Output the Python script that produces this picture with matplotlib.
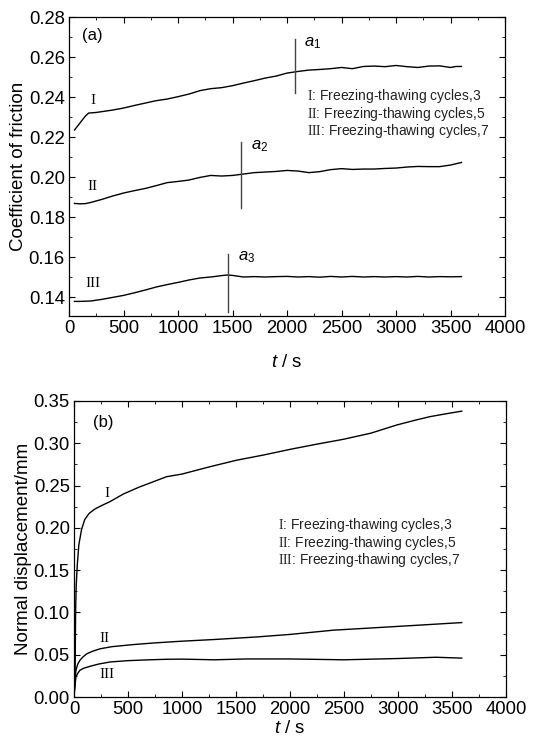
import matplotlib
matplotlib.use("Agg")
import matplotlib.pyplot as plt
from matplotlib.ticker import MultipleLocator

plt.rcParams["font.family"] = ["Liberation Sans", "DejaVu Sans"]
plt.rcParams["mathtext.fontset"] = "custom"
plt.rcParams["mathtext.rm"] = "Liberation Serif"
plt.rcParams["mathtext.it"] = "Liberation Sans:italic"
plt.rcParams["mathtext.sf"] = "Liberation Sans"

# ---- panel (a): coefficient of friction ----
t_fa1 = [50, 100, 150, 180, 250, 300, 400, 500, 600, 700, 800, 900, 1000, 1100, 1200,
         1300, 1400, 1500, 1600, 1700, 1800, 1900, 2000, 2100, 2200, 2300, 2400, 2500,
         2600, 2700, 2800, 2900, 3000, 3100, 3200, 3300, 3400, 3500, 3550, 3600]
f_a1 = [0.2235, 0.2270, 0.2305, 0.2320, 0.2323, 0.2327, 0.2335, 0.2345, 0.2358, 0.2370,
        0.2382, 0.2390, 0.2402, 0.2415, 0.2432, 0.2442, 0.2447, 0.2457, 0.2470, 0.2482,
        0.2495, 0.2505, 0.2520, 0.2528, 0.2535, 0.2538, 0.2542, 0.2548, 0.2542, 0.2553,
        0.2555, 0.2552, 0.2558, 0.2552, 0.2548, 0.2555, 0.2556, 0.2548, 0.2553, 0.2553]

t_fa2 = [50, 100, 150, 200, 300, 400, 500, 600, 700, 800, 900, 1000, 1100, 1200, 1300,
         1400, 1500, 1600, 1700, 1800, 1900, 2000, 2100, 2200, 2300, 2400, 2500, 2600,
         2700, 2800, 2900, 3000, 3100, 3200, 3300, 3400, 3500, 3600]
f_a2 = [0.1868, 0.1866, 0.1867, 0.1873, 0.1888, 0.1905, 0.1920, 0.1932, 0.1943, 0.1957,
        0.1972, 0.1978, 0.1985, 0.1998, 0.2008, 0.2005, 0.2008, 0.2015, 0.2022, 0.2025,
        0.2028, 0.2033, 0.2030, 0.2022, 0.2027, 0.2037, 0.2042, 0.2038, 0.2040, 0.2040,
        0.2043, 0.2045, 0.2050, 0.2053, 0.2052, 0.2052, 0.2060, 0.2073]

t_fa3 = [50, 100, 200, 300, 400, 500, 600, 700, 800, 900, 1000, 1100, 1200, 1300, 1400,
         1450, 1500, 1600, 1700, 1800, 1900, 2000, 2100, 2200, 2300, 2400, 2500, 2600,
         2700, 2800, 2900, 3000, 3100, 3200, 3300, 3400, 3500, 3600]
f_a3 = [0.1378, 0.1378, 0.1380, 0.1388, 0.1398, 0.1408, 0.1421, 0.1435, 0.1450, 0.1462,
        0.1473, 0.1485, 0.1495, 0.1500, 0.1507, 0.1510, 0.1508, 0.1500, 0.1502, 0.1500,
        0.1502, 0.1503, 0.1500, 0.1502, 0.1499, 0.1503, 0.1500, 0.1503, 0.1500, 0.1502,
        0.1500, 0.1502, 0.1500, 0.1503, 0.1500, 0.1502, 0.1501, 0.1502]

# marker lines a1..a3: time, lower, upper
mark_t = [2070, 1578, 1456]
mark_lo = [0.242, 0.1847, 0.1325]
mark_hi = [0.2688, 0.2175, 0.1617]
mark_names = ["1", "2", "3"]

# ---- panel (b): normal displacement ----
t_b1 = [0, 10, 15, 20, 30, 45, 70, 100, 140, 190, 250, 333, 457, 600, 858, 1000, 1250,
        1506, 1750, 2000, 2250, 2494, 2750, 2988, 3150, 3296, 3450, 3590]
d_b1 = [0.0, 0.02, 0.10, 0.13, 0.155, 0.180, 0.198, 0.210, 0.217, 0.222, 0.226, 0.231,
        0.240, 0.248, 0.2605, 0.2636, 0.272, 0.280, 0.286, 0.2928, 0.299, 0.3047, 0.312,
        0.3216, 0.327, 0.3315, 0.335, 0.338]

t_b2 = [0, 8, 18, 35, 55, 80, 117, 170, 241, 350, 550, 750, 1000, 1300, 1690, 2000, 2400,
        2800, 3200, 3590]
d_b2 = [0.0, 0.018, 0.0316, 0.039, 0.0434, 0.047, 0.051, 0.054, 0.057, 0.0595, 0.062,
        0.064, 0.066, 0.068, 0.071, 0.074, 0.079, 0.082, 0.085, 0.088]

t_b3 = [0, 8, 18, 35, 55, 90, 148, 230, 333, 500, 700, 858, 1000, 1300, 1600, 2000, 2500,
        3000, 3350, 3590]
d_b3 = [0.0, 0.012, 0.0237, 0.028, 0.0316, 0.034, 0.0363, 0.039, 0.0414, 0.0430, 0.0440,
        0.0446, 0.0448, 0.0440, 0.0450, 0.0450, 0.0440, 0.0455, 0.0470, 0.0460]

legend_labels = ["I", "II", "III"]
legend_cycles = [3, 5, 7]

TICK_FS = 13.3
LABEL_FS = 13.5
LEG_FS = 10


def style_axes(ax, ymaj, ymin, xpad):
    ax.set_xlim(0, 4000)
    ax.xaxis.set_major_locator(MultipleLocator(500))
    ax.xaxis.set_minor_locator(MultipleLocator(250))
    ax.yaxis.set_major_locator(MultipleLocator(ymaj))
    ax.yaxis.set_minor_locator(MultipleLocator(ymin))
    ax.tick_params(which="both", direction="in", top=True, right=True,
                   labelsize=TICK_FS)
    ax.tick_params(which="major", length=4, pad=3)
    ax.tick_params(which="minor", length=2.5)
    ax.set_xlabel(r"$t$ / s", fontsize=LABEL_FS, labelpad=xpad)
    for s in ax.spines.values():
        s.set_linewidth(0.9)


def legend_block(ax, x, ys):
    for lab, cyc, y in zip(legend_labels, legend_cycles, ys):
        ax.text(x, y, r"$\mathrm{%s}$: Freezing-thawing cycles,%d" % (lab, cyc),
                fontsize=LEG_FS, color="#222", ha="left", va="center")


fig = plt.figure(figsize=(5.46, 7.43), dpi=100)

ax1 = fig.add_axes([0.1264, 0.5747, 0.7986, 0.4023])
ax1.plot(t_fa1, f_a1, color="black", lw=1.0)
ax1.plot(t_fa2, f_a2, color="black", lw=1.0)
ax1.plot(t_fa3, f_a3, color="black", lw=1.0)
for mt, lo, hi, nm in zip(mark_t, mark_lo, mark_hi, mark_names):
    ax1.plot([mt, mt], [lo, hi], color="#444", lw=1.0)
    ax1.text(mt + 90, hi - 0.002, r"$a_{\mathsf{%s}}$" % nm, fontsize=12,
             ha="left", va="center")
ax1.set_ylim(0.1305, 0.28)
style_axes(ax1, 0.02, 0.01, 12)
ax1.set_ylabel("Coefficient of friction", fontsize=LABEL_FS, labelpad=1)
ax1.text(0.03, 0.94, "(a)", transform=ax1.transAxes, fontsize=12,
         ha="left", va="center")
ax1.text(226, 0.2385, r"$\mathrm{I}$", fontsize=11, ha="center", va="center")
ax1.text(217, 0.1955, r"$\mathrm{II}$", fontsize=11, ha="center", va="center")
ax1.text(220, 0.147, r"$\mathrm{III}$", fontsize=11, ha="center", va="center")
legend_block(ax1, 2183, [0.2405, 0.2317, 0.2228])

ax2 = fig.add_axes([0.1355, 0.0619, 0.7912, 0.3984])
ax2.plot(t_b1, d_b1, color="black", lw=1.0)
ax2.plot(t_b2, d_b2, color="black", lw=1.0)
ax2.plot(t_b3, d_b3, color="black", lw=1.0)
ax2.set_ylim(0, 0.35)
style_axes(ax2, 0.05, 0.025, 1)
ax2.yaxis.set_major_formatter(plt.FormatStrFormatter("%.2f"))
ax2.set_ylabel("Normal displacement/mm", fontsize=LABEL_FS, labelpad=1)
ax2.text(0.044, 0.926, "(b)", transform=ax2.transAxes, fontsize=12,
         ha="left", va="center")
ax2.text(312, 0.2415, r"$\mathrm{I}$", fontsize=11, ha="center", va="center")
ax2.text(287, 0.0698, r"$\mathrm{II}$", fontsize=11, ha="center", va="center")
ax2.text(302, 0.0276, r"$\mathrm{III}$", fontsize=11, ha="center", va="center")
legend_block(ax2, 1892, [0.2032, 0.1823, 0.1618])

fig.savefig("out.png", dpi=100, facecolor="white")
